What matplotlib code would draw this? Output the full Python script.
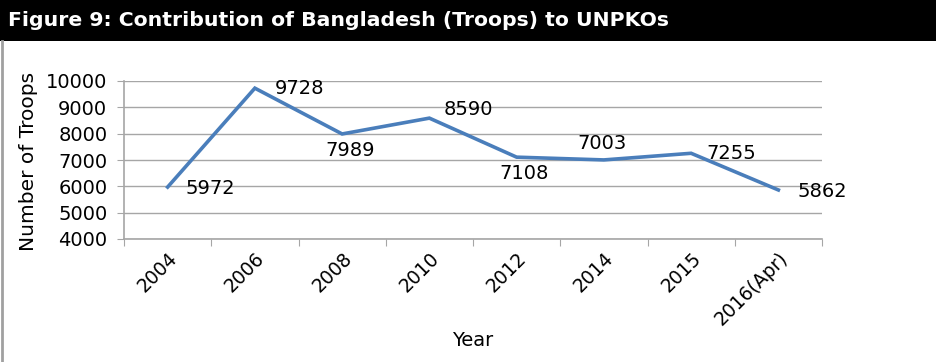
import matplotlib.pyplot as plt
from matplotlib.patches import Rectangle
from matplotlib.lines import Line2D
from matplotlib.transforms import ScaledTranslation

# Bangladesh troop contribution to UN peacekeeping operations
years = ['2004', '2006', '2008', '2010', '2012', '2014', '2015', '2016(Apr)']
troops = [5972, 9728, 7989, 8590, 7108, 7003, 7255, 5862]

# where each data label sits relative to its point (points, ha, va)
label_offsets = [(13, -1, 'left', 'center'), (14, 0, 'left', 'center'),
                 (6, -5, 'center', 'top'), (10, 6, 'left', 'center'),
                 (5, -5, 'center', 'top'), (-1, 5, 'center', 'bottom'),
                 (11, 0, 'left', 'center'), (13.5, -1, 'left', 'center')]

line_color = '#4A7EBB'
grid_color = '#A6A6A6'
font = 'DejaVu Sans'

fig = plt.figure(figsize=(9.36, 3.62), dpi=100)

# title bar
fig.patches.append(Rectangle((0, 1 - 41 / 362), 1, 41 / 362, transform=fig.transFigure,
                             facecolor='black', edgecolor='none', zorder=0))
fig.text(8 / 936, 1 - 21 / 362, 'Figure 9: Contribution of Bangladesh (Troops) to UNPKOs',
         color='white', fontsize=14.7, fontweight='bold', family=font,
         va='center', ha='left')
# left border of the box
fig.lines.append(Line2D([2 / 936, 2 / 936], [0, 1 - 41 / 362], transform=fig.transFigure,
                        color='#A0A0A0', linewidth=2))

ax = fig.add_axes([124 / 936, 1 - 239 / 362, (822 - 124) / 936, (239 - 81) / 362])
x = range(len(years))
ax.plot(x, troops, color=line_color, linewidth=2.6, solid_joinstyle='miter')

for i, v in enumerate(troops):
    dx, dy, ha, va = label_offsets[i]
    ax.annotate(str(v), (i, v), xytext=(dx, dy), textcoords='offset points',
                ha=ha, va=va, fontsize=14, family=font)

ax.set_xlim(-0.5, len(years) - 0.5)
ax.set_ylim(4000, 10000)
ax.set_yticks(range(4000, 10001, 1000))
ax.set_xticks([i + 0.5 for i in range(-1, len(years))])
ax.set_xticklabels([])
ax.set_xticks(list(x), minor=True)
ax.set_xticklabels(years, minor=True, rotation=45, ha='right', va='top',
                   rotation_mode='anchor', fontsize=13.5, family=font)
shift = ScaledTranslation(6 / 100, 0, fig.dpi_scale_trans)
for lab in ax.get_xticklabels(minor=True):
    lab.set_transform(lab.get_transform() + shift)
ax.tick_params(axis='x', which='minor', length=0, pad=7)
ax.tick_params(axis='x', which='major', length=5, color=grid_color)
ax.tick_params(axis='y', length=5, color=grid_color, labelsize=14, pad=7)
for lab in ax.get_yticklabels():
    lab.set_family(font)

ax.yaxis.grid(True, color=grid_color, linewidth=1)
ax.set_axisbelow(True)
for s in ['top', 'right']:
    ax.spines[s].set_visible(False)
for s in ['left', 'bottom']:
    ax.spines[s].set_color(grid_color)
    ax.spines[s].set_linewidth(1.2)

ax.set_ylabel('Number of Troops', fontsize=14.5, family=font)
ax.yaxis.set_label_coords(-86 / 698, 0.494)
ax.set_xlabel('Year', fontsize=14, family=font)
ax.xaxis.set_label_coords(0.5, -(331 - 239) / 158)

fig.savefig('out.png', dpi=100)
